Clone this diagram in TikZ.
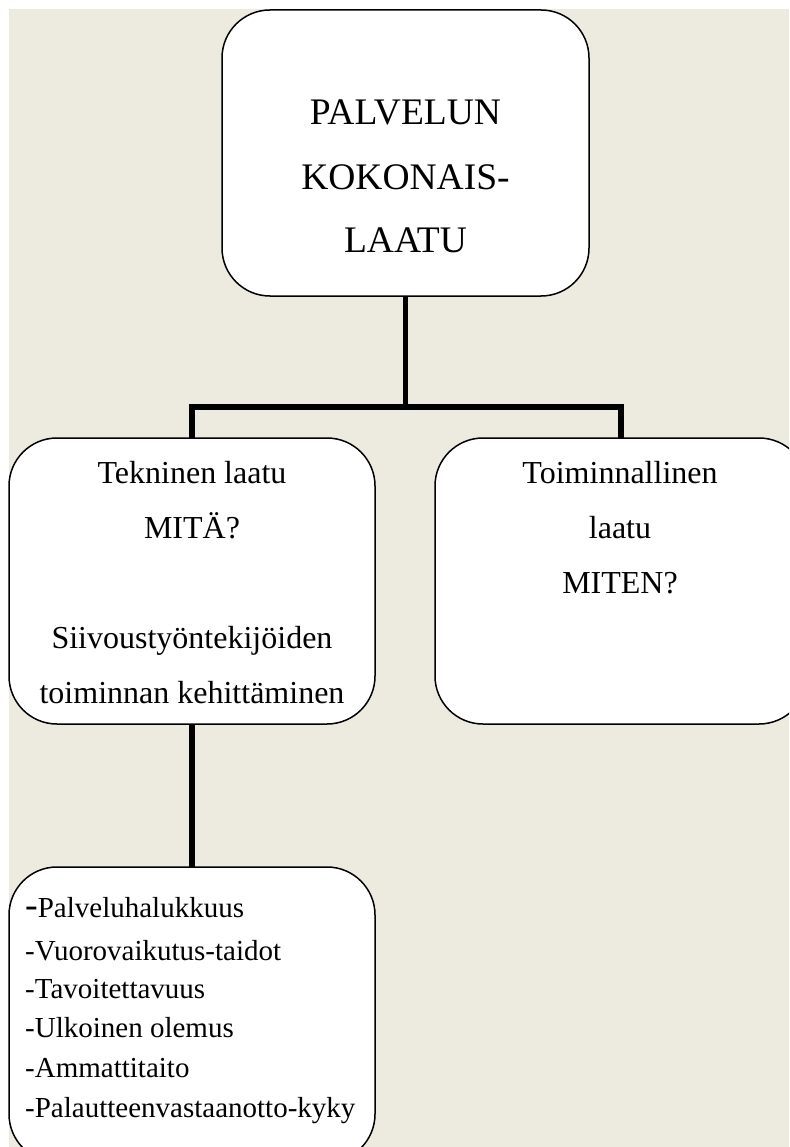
\documentclass[tikz,border=0pt]{standalone}
\usepackage{fontspec}
\setmainfont{Liberation Serif}
\definecolor{paper}{RGB}{237,234,224}
\begin{document}
\begin{tikzpicture}[x=1pt,y=-1pt,
  box/.style={draw=black,line width=1.5pt,fill=white,rounded corners=48pt,
    inner sep=0pt,outer sep=0pt,anchor=north west},
  conn/.style={draw=black,line width=5.5pt},
  big/.style={anchor=base,inner sep=0pt,font=\fontsize{37.5}{40}\selectfont},
  mid/.style={anchor=base,inner sep=0pt,font=\fontsize{32}{36}\selectfont},
  small/.style={anchor=base west,inner sep=0pt,font=\fontsize{29}{32}\selectfont}]
  % page and paper area
  \useasboundingbox (0,0) rectangle (789,1147);
  \clip (0,0) rectangle (789,1147);
  \fill[white] (0,0) rectangle (789,1147);
  \fill[paper] (9,9) rectangle (789,1147);

  % boxes
  \node[box,minimum width=367pt,minimum height=286pt] (top) at (222,10) {};
  \node[box,minimum width=366pt,minimum height=286pt] (left) at (9,438) {};
  \node[box,minimum width=372pt,minimum height=286pt] (right) at (435,438) {};
  \node[box,minimum width=366pt,minimum height=295pt] (items) at (9,867) {};

  % connectors
  \coordinate (busy) at (0,407);
  \draw[conn] (top.south) -- (top.south |- busy);
  \draw[conn] (left.north) |- (top.south |- busy) -| (right.north);
  \draw[conn] (left.south) -- (items.north);

  % top box text
  \node[big] (t1) at (405.5,125) {PALVELUN};
  \node[big] (t2) at (405.5,190) {KOKONAIS-};
  \node[big] (t3) at (405.5,253) {LAATU};

  % left box text
  \node[mid] (l1) at (192,483) {Tekninen laatu};
  \node[mid] (l2) at (192,538) {MITÄ?};
  \node[mid] (l3) at (192,648) {Siivoustyöntekijöiden};
  \node[mid] (l4) at (192,703) {toiminnan kehittäminen};

  % right box text
  \node[mid] (r1) at (620,483) {Toiminnallinen};
  \node[mid] (r2) at (620,538) {laatu};
  \node[mid] (r3) at (620,593) {MITEN?};

  % list of items
  \node[small] (i1) at (25,917) {{\fontsize{38}{40}\selectfont -}Palveluhalukkuus};
  \node[small] (i2) at (25,960) {-Vuorovaikutus-taidot};
  \node[small] (i3) at (25,998) {-Tavoitettavuus};
  \node[small] (i4) at (25,1037) {-Ulkoinen olemus};
  \node[small] (i5) at (25,1077) {-Ammattitaito};
  \node[small] (i6) at (25,1117) {-Palautteenvastaanotto-kyky};
\end{tikzpicture}
\end{document}
